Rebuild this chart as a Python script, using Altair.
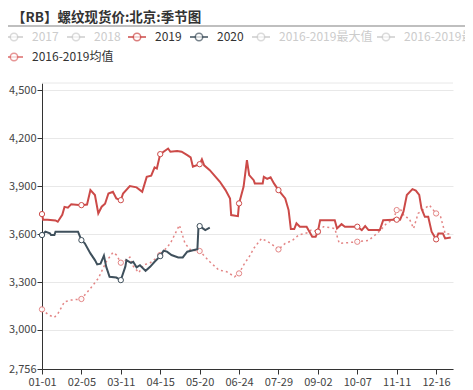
import altair as alt
import pandas as pd

TITLE = "【RB】螺纹现货价:北京:季节图"
TICK_LABELS = ["01-01", "02-05", "03-11", "04-15", "05-20", "06-24",
               "07-29", "09-02", "10-07", "11-11", "12-16"]
TICK_STEP = 35
Y_TICKS = [2756, 3000, 3300, 3600, 3900, 4200, 4500]
Y_MIN, Y_MAX = 2756, 4545
X_MAX = 365

days_2019 = [0, 1, 5, 12, 14, 18, 20, 23, 26, 35, 40, 43, 47, 50, 53, 56, 59, 63, 66, 70,
             72, 78, 84, 89, 93, 97, 100, 102, 105, 112, 114, 120, 124, 129, 132, 134, 140,
             142, 144, 149, 158, 163, 167, 168, 174, 175, 179, 182, 184, 188, 189, 196, 197,
             200, 203, 206, 210, 216, 219, 221, 224, 226, 229, 235, 240, 243, 245, 247, 260,
             262, 266, 269, 280, 284, 287, 290, 300, 303, 312, 315, 318, 321, 324, 329, 332,
             335, 337, 340, 343, 346, 350, 352, 356, 358, 363]
vals_2019 = [3725, 3690, 3690, 3685, 3677, 3720, 3770, 3765, 3787, 3781, 3785, 3875, 3844,
             3729, 3771, 3790, 3854, 3865, 3823, 3812, 3854, 3900, 3892, 3865, 3958, 3965,
             4017, 4010, 4100, 4135, 4115, 4120, 4115, 4094, 4080, 4021, 4037, 4068, 4030,
             4000, 3927, 3875, 3823, 3719, 3712, 3792, 3896, 4062, 3969, 3937, 3917, 3917,
             3958, 3945, 3955, 3917, 3875, 3823, 3750, 3631, 3631, 3667, 3646, 3646, 3583,
             3583, 3615, 3687, 3687, 3635, 3662, 3646, 3646, 3625, 3650, 3625, 3625, 3687,
             3690, 3690, 3690, 3740, 3844, 3881, 3872, 3845, 3760, 3708, 3708, 3615, 3567,
             3604, 3604, 3573, 3579]

days_2020 = [0, 3, 7, 8, 11, 12, 32, 35, 38, 43, 47, 49, 52, 55, 57, 60, 66, 70, 74, 75, 79,
             81, 84, 87, 92, 96, 100, 105, 108, 111, 115, 121, 125, 129, 135, 138, 139, 140,
             145, 149]
vals_2020 = [3594, 3615, 3605, 3594, 3594, 3615, 3615, 3562, 3542, 3479, 3437, 3410, 3415,
             3465, 3396, 3333, 3328, 3312, 3396, 3437, 3420, 3427, 3392, 3405, 3370, 3395,
             3427, 3462, 3496, 3490, 3469, 3454, 3454, 3490, 3500, 3505, 3650, 3650, 3625,
             3640]

days_avg = [0, 6, 11, 14, 20, 26, 35, 43, 50, 57, 63, 66, 70, 74, 78, 81, 86, 90, 96, 105,
            114, 122, 127, 132, 140, 149, 157, 164, 171, 175, 179, 185, 188, 195, 203, 210,
            216, 222, 228, 237, 239, 245, 250, 260, 264, 270, 280, 290, 294, 300, 306, 312,
            315, 318, 322, 326, 330, 334, 338, 344, 350, 354, 358, 362]
vals_avg = [3129, 3094, 3079, 3100, 3177, 3187, 3194, 3260, 3323, 3427, 3485, 3470, 3421,
            3435, 3455, 3400, 3358, 3406, 3420, 3469, 3542, 3656, 3542, 3500, 3494, 3427,
            3375, 3365, 3333, 3354, 3406, 3469, 3510, 3573, 3542, 3504, 3542, 3558, 3594,
            3610, 3625, 3615, 3646, 3635, 3542, 3545, 3552, 3560, 3583, 3620, 3667, 3690,
            3750, 3760, 3708, 3700, 3635, 3729, 3750, 3781, 3729, 3708, 3604, 3600]

LEGEND_LABELS = ["2017", "2018", "2019", "2020", "2016-2019最大值", "2016-2019最小值", "2016-2019均值"]
LEGEND_ACTIVE = [False, False, True, True, False, False, True]
LEGEND_COLORS = ["#cccccc", "#cccccc", "#cc4a48", "#3f505c", "#cccccc", "#cccccc", "#dd6b6b"]

C2019, C2020, CAVG = "#cc4a48", "#3f505c", "#e07878"
FONT = "Noto Sans CJK SC"

W, H = 411, 286

df = pd.concat([
    pd.DataFrame({"day": days_2019, "value": vals_2019, "series": "2019"}),
    pd.DataFrame({"day": days_2020, "value": vals_2020, "series": "2020"}),
    pd.DataFrame({"day": days_avg, "value": vals_avg, "series": "2016-2019均值"}),
], ignore_index=True)

label_js = "[" + ",".join(f"'{t}'" for t in TICK_LABELS) + "]"
xs = alt.Scale(domain=[0, X_MAX], nice=False, zero=False)
ys = alt.Scale(domain=[Y_MIN, Y_MAX], nice=False, zero=False)

x_enc = alt.X("day:Q", scale=xs, axis=alt.Axis(
    values=[i * TICK_STEP for i in range(len(TICK_LABELS))],
    labelExpr=f"{label_js}[round(datum.value/{TICK_STEP})]",
    grid=False, domainColor="#333333", tickColor="#333333", tickSize=5,
    labelColor="#444444", labelFontSize=11, labelFont=FONT, labelFlush=False,
    labelOverlap=False, labelPadding=2, title=None))
y_enc = alt.Y("value:Q", scale=ys, axis=alt.Axis(
    values=Y_TICKS, labelExpr="format(datum.value, ',.0f')", grid=True, gridColor="#e8e8e8",
    domainColor="#333333", tickColor="#333333", tickSize=5,
    labelColor="#444444", labelFontSize=11, labelFont=FONT, labelOverlap=False,
    labelPadding=1, title=None))

base = alt.Chart(df)

def series_layers(name, color, width, dash=None, opacity=1.0):
    sub = base.transform_filter(alt.datum.series == name)
    line_kwargs = dict(color=color, strokeWidth=width, opacity=opacity)
    if dash:
        line_kwargs["strokeDash"] = dash
    line = sub.mark_line(**line_kwargs).encode(x=x_enc, y=y_enc)
    pts = sub.transform_filter(f"datum.day % {TICK_STEP} == 0").mark_point(
        shape="circle", size=28, strokeWidth=1, opacity=opacity
    ).encode(x=x_enc, y=y_enc, fill=alt.value("white"), stroke=alt.value(color))
    return [line, pts]

one = pd.DataFrame({"a": [0]})
deco = []
# top gridline
deco.append(alt.Chart(one).mark_rule(color="#e8e8e8", strokeWidth=1).encode(
    x=alt.value(0), x2=alt.value(W), y=alt.value(0)))
# title
deco.append(alt.Chart(one).mark_text(
    text=TITLE, align="left", baseline="middle", font=FONT, fontSize=13.5,
    color="#333333", fontWeight="bold").encode(x=alt.value(-30), y=alt.value(-65)))
# separator line
deco.append(alt.Chart(one).mark_rule(color="#aaaaaa", strokeWidth=1.5).encode(
    x=alt.value(-34), x2=alt.value(W + 12), y=alt.value(-57)))

# legend
LEG_X = [-37, 25, 86, 148, 210, 335, -37]
LEG_Y = [-46, -46, -46, -46, -46, -46, -26]
for lab, act, col, lx, ly in zip(LEGEND_LABELS, LEGEND_ACTIVE, LEGEND_COLORS, LEG_X, LEG_Y):
    deco.append(alt.Chart(one).mark_rule(color=col, strokeWidth=1.5).encode(
        x=alt.value(lx), x2=alt.value(lx + 18), y=alt.value(ly)))
    deco.append(alt.Chart(one).mark_point(shape="circle", size=55, strokeWidth=1.5).encode(
        x=alt.value(lx + 9), y=alt.value(ly), fill=alt.value("white"), stroke=alt.value(col)))
    deco.append(alt.Chart(one).mark_text(
        text=lab, align="left", baseline="middle", font=FONT, fontSize=12,
        color="#333333" if act else "#cccccc").encode(x=alt.value(lx + 27), y=alt.value(ly)))

layers = (series_layers("2016-2019均值", CAVG, 1.5, dash=[2, 3], opacity=0.9)
          + series_layers("2019", C2019, 2)
          + series_layers("2020", C2020, 2))

chart = alt.layer(deco[0], *layers, *deco[1:]).properties(
    width=W, height=H,
    autosize=alt.AutoSizeParams(type="none"),
    padding={"left": 34, "top": 75, "right": 12, "bottom": 21},
).configure_view(stroke=None)

chart.save("out.html", embed_options={"renderer": "svg", "actions": False})
